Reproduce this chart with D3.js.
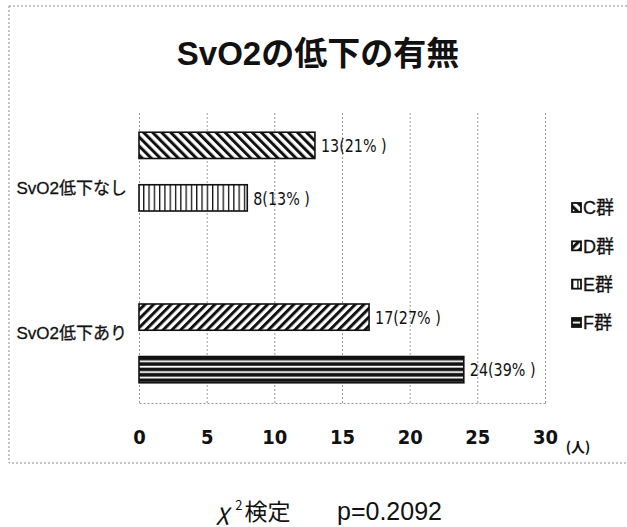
<!DOCTYPE html>
<html>
<head>
<meta charset="utf-8">
<script src="https://cdn.jsdelivr.net/npm/d3@7"></script>
<style>
  html, body { margin: 0; padding: 0; background: #fff; }
  svg { display: block; }
</style>
</head>
<body>
<svg id="chart" width="627" height="527"></svg>
<script>
// Categories on the vertical axis and the four groups drawn inside each
const categories = ["SvO2低下なし", "SvO2低下あり"];
const groups = ["C群", "D群", "E群", "F群"];

// Patient counts per group (null = no bar in that category)
const countC = [13, null];
const countD = [null, 17];
const countE = [8, null];
const countF = [null, 24];

// Percentages shown next to each bar
const pctC = [21, null];
const pctD = [null, 27];
const pctE = [13, null];
const pctF = [null, 39];

const xTicks = [0, 5, 10, 15, 20, 25, 30];

const seriesCounts = [countC, countD, countE, countF];
const seriesPcts = [pctC, pctD, pctE, pctF];
const patternIds = ["hatchBack", "hatchFwd", "vLines", "hLines"];

const rows = [];
groups.forEach((g, gi) => {
  categories.forEach((c, ci) => {
    const v = seriesCounts[gi][ci];
    if (v != null) rows.push({ group: g, cat: c, value: v, pct: seriesPcts[gi][ci], pattern: patternIds[gi] });
  });
});

const svg = d3.select("#chart");
const ink = "#111";
const latin = "'Liberation Sans', Arial, 'Noto Sans CJK JP', sans-serif";
const narrow = "'Liberation Sans Narrow', 'Arial Narrow', 'DejaVu Sans Condensed', sans-serif";

// ---- fill patterns ----
const defs = svg.append("defs");
function stripes(id, period, bar, angle) {
  const p = defs.append("pattern")
    .attr("id", id).attr("patternUnits", "userSpaceOnUse")
    .attr("width", period).attr("height", period)
    .attr("patternTransform", `rotate(${angle})`);
  p.append("rect").attr("width", period).attr("height", period).attr("fill", "#fff");
  p.append("rect").attr("width", bar).attr("height", period).attr("fill", ink);
}
stripes("hatchBack", 6.4, 3.0, -45);
stripes("hatchFwd", 6.2, 3.0, 45);
stripes("vLines", 5.3, 1.3, 0);
const hp = defs.append("pattern")
  .attr("id", "hLines").attr("patternUnits", "userSpaceOnUse")
  .attr("width", 10).attr("height", 5.4).attr("y", 357);
hp.append("rect").attr("width", 10).attr("height", 5.4).attr("fill", ink);
hp.append("rect").attr("y", 3.4).attr("width", 10).attr("height", 1.8).attr("fill", "#fff");

// ---- outer frame ----
svg.append("rect")
  .attr("x", 9).attr("y", 6).attr("width", 640).attr("height", 457)
  .attr("fill", "none").attr("stroke", "#888").attr("stroke-width", 1)
  .attr("stroke-dasharray", "2,2");

// ---- scales ----
const plotTop = 112, plotBottom = 403;
const x = d3.scaleLinear().domain([0, 30]).range([139, 545]);
const y = d3.scaleBand().domain(categories).range([plotTop, plotBottom])
  .paddingInner(0.278).paddingOuter(0.139);
const ySub = d3.scaleBand().domain(groups).range([0, y.bandwidth()]);

// ---- grid ----
svg.append("g")
  .attr("transform", `translate(0,${plotBottom})`)
  .call(d3.axisBottom(x).tickValues(xTicks).tickSize(-(plotBottom - plotTop)).tickSizeOuter(0).tickFormat(""))
  .call(g => g.selectAll("line, path")
    .attr("stroke", "#999").attr("stroke-width", 1).attr("stroke-dasharray", "2,2"));

// ---- tick labels ----
svg.append("g")
  .attr("transform", `translate(0,${plotBottom})`)
  .call(d3.axisBottom(x).tickValues(xTicks).tickSize(0))
  .call(g => g.select(".domain").remove())
  .call(g => g.selectAll("text")
    .attr("y", 41).attr("dy", null)
    .attr("fill", ink)
    .style("font-family", narrow).style("font-weight", "bold").style("font-size", "20px"));

svg.append("text")
  .attr("x", 578).attr("y", 452)
  .attr("text-anchor", "middle")
  .attr("fill", ink)
  .style("font-family", "'Noto Sans CJK JP', sans-serif").style("font-weight", "bold").style("font-size", "14px")
  .text("(人)");

// ---- bars ----
svg.append("g").selectAll("rect")
  .data(rows)
  .join("rect")
  .attr("x", x(0))
  .attr("y", d => y(d.cat) + ySub(d.group))
  .attr("width", d => x(d.value) - x(0))
  .attr("height", ySub.bandwidth())
  .attr("fill", d => `url(#${d.pattern})`)
  .attr("stroke", ink).attr("stroke-width", 1.6);

// ---- value labels (condensed horizontally) ----
svg.append("g").selectAll("g")
  .data(rows)
  .join("g")
  .attr("transform", d => `translate(${x(d.value) + 6},${y(d.cat) + ySub(d.group) + ySub.bandwidth() / 2})`)
  .append("text")
  .attr("transform", "scale(0.86,1)")
  .attr("dy", "0.36em")
  .attr("fill", ink)
  .style("font-family", narrow).style("font-size", "18.5px")
  .text(d => `${d.value}(${d.pct}% )`);

// ---- category labels ----
svg.append("g").selectAll("text")
  .data(categories)
  .join("text")
  .attr("x", 127)
  .attr("y", d => y(d) + y.bandwidth() / 2 + 3)
  .attr("dy", "0.36em")
  .attr("text-anchor", "end")
  .attr("fill", ink)
  .style("font-family", latin).style("font-size", "17px")
  .style("stroke", ink).style("stroke-width", 0.3)
  .text(d => d);

// ---- legend ----
const ly = d3.scalePoint().domain(groups).range([208, 323]);
const legend = svg.append("g").selectAll("g")
  .data(groups)
  .join("g")
  .attr("transform", d => `translate(572,${ly(d)})`);
legend.append("rect")
  .attr("x", 0).attr("y", -5).attr("width", 9).attr("height", 9)
  .attr("fill", (d, i) => `url(#${patternIds[i]})`)
  .attr("stroke", ink).attr("stroke-width", 1.8);
legend.append("text")
  .attr("x", 11).attr("dy", "0.36em")
  .attr("fill", ink)
  .style("font-family", latin).style("font-size", "18px")
  .style("stroke", ink).style("stroke-width", 0.3)
  .text(d => d);

// ---- title ----
svg.append("text")
  .attr("x", 318).attr("y", 65)
  .attr("text-anchor", "middle")
  .attr("fill", ink)
  .style("font-family", latin).style("font-weight", "bold").style("font-size", "33px")
  .text("SvO2の低下の有無");

// ---- test result note ----
const note = svg.append("text")
  .attr("x", 217).attr("y", 520)
  .attr("fill", ink)
  .style("font-family", "'Noto Sans CJK JP', sans-serif").style("font-size", "23px");
note.append("tspan").style("font-style", "italic").text("χ");
note.append("tspan").attr("dx", 6).attr("dy", -10).style("font-size", "13px").text("2");
note.append("tspan").attr("dx", 2).attr("dy", 10).text("検定");
svg.append("text")
  .attr("x", 337).attr("y", 520)
  .attr("fill", ink)
  .style("font-family", latin).style("font-size", "25px")
  .text("p=0.2092");
</script>
</body>
</html>
